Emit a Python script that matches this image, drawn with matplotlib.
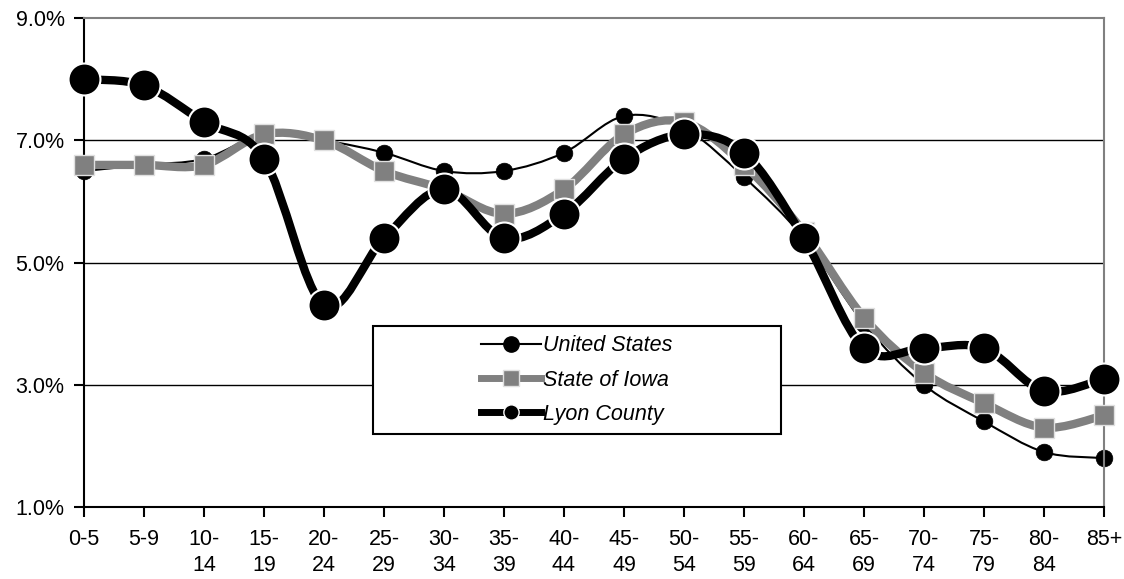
import matplotlib
matplotlib.use("Agg")
import matplotlib.pyplot as plt
from matplotlib.path import Path
from matplotlib.patches import PathPatch, Rectangle
from matplotlib.lines import Line2D
from matplotlib.ticker import FuncFormatter

plt.rcParams['font.family'] = ['Liberation Sans', 'DejaVu Sans']

# ---- data ----
age_groups = ["0-5", "5-9", "10-\n14", "15-\n19", "20-\n24", "25-\n29", "30-\n34",
              "35-\n39", "40-\n44", "45-\n49", "50-\n54", "55-\n59", "60-\n64",
              "65-\n69", "70-\n74", "75-\n79", "80-\n84", "85+"]
united_states = [6.5, 6.6, 6.7, 7.1, 7.0, 6.8, 6.5, 6.5, 6.8, 7.4, 7.2, 6.4, 5.4,
                 4.0, 3.0, 2.4, 1.9, 1.8]
state_of_iowa = [6.6, 6.6, 6.6, 7.1, 7.0, 6.5, 6.2, 5.8, 6.2, 7.1, 7.3, 6.6, 5.5,
                 4.1, 3.2, 2.7, 2.3, 2.5]
lyon_county = [8.0, 7.9, 7.3, 6.7, 4.3, 5.4, 6.2, 5.4, 5.8, 6.7, 7.1, 6.8, 5.4,
               3.6, 3.6, 3.6, 2.9, 3.1]
y_ticks = [1, 3, 5, 7, 9]
series_names = ["United States", "State of Iowa", "Lyon County"]

GREY = "#808080"
FS = 15.5

W, H = 1124, 579
fig = plt.figure(figsize=(W / 100, H / 100), dpi=100)
left, right, top, bottom = 84, 1104, 18.3, 507
ax = fig.add_axes([left / W, 1 - bottom / H, (right - left) / W, (bottom - top) / H])

x = list(range(len(age_groups)))


def smooth_path(xs, ys):
    n = len(xs)
    verts = [(xs[0], ys[0])]
    codes = [Path.MOVETO]
    for i in range(n - 1):
        p0 = i - 1 if i > 0 else i
        p3 = i + 2 if i + 2 < n else i + 1
        c1 = (xs[i] + (xs[i + 1] - xs[p0]) / 6.0, ys[i] + (ys[i + 1] - ys[p0]) / 6.0)
        c2 = (xs[i + 1] - (xs[p3] - xs[i]) / 6.0, ys[i + 1] - (ys[p3] - ys[i]) / 6.0)
        verts += [c1, c2, (xs[i + 1], ys[i + 1])]
        codes += [Path.CURVE4] * 3
    return Path(verts, codes)


styles = [
    dict(data=united_states, color="black", lw=1.5, marker="o", ms=12, mec="black", mew=0.5, z=2),
    dict(data=state_of_iowa, color=GREY, lw=6, marker="s", ms=14.5, mec="#e0e0e0", mew=1.0, z=3),
    dict(data=lyon_county, color="black", lw=6, marker="o", ms=23, mec="white", mew=1.5, z=4),
]

for st in styles:
    patch = PathPatch(smooth_path(x, st["data"]), fill=False, edgecolor=st["color"],
                      lw=st["lw"], capstyle="round", joinstyle="round", zorder=st["z"])
    ax.add_patch(patch)
    ax.plot(x, st["data"], linestyle="none", marker=st["marker"], ms=st["ms"],
            mfc=st["color"], mec=st["mec"], mew=st["mew"], zorder=st["z"] + 0.5,
            clip_on=False)

ax.set_xlim(0, len(age_groups) - 1)
ax.set_ylim(1, 9)
ax.set_xticks(x)
ax.set_xticklabels(age_groups, fontsize=FS, linespacing=1.3)
ax.set_yticks(y_ticks)
ax.yaxis.set_major_formatter(FuncFormatter(lambda v, p: f"{v:.1f}%"))
ax.tick_params(axis="y", labelsize=FS, length=7, width=1.5, pad=7, direction="out")
ax.tick_params(axis="x", length=7, width=1.5, pad=9, direction="out")

for yv in y_ticks[1:-1]:
    ax.axhline(yv, color="black", lw=1.0, zorder=1)

ax.spines["left"].set_color("black")
ax.spines["left"].set_linewidth(1.5)
ax.spines["bottom"].set_color("black")
ax.spines["bottom"].set_linewidth(1.5)
ax.spines["top"].set_color(GREY)
ax.spines["top"].set_linewidth(1.5)
ax.spines["right"].set_color(GREY)
ax.spines["right"].set_linewidth(1.5)

# legend box
bx0 = (372.7 - left) / (right - left)
bx1 = (780.7 - left) / (right - left)
by0 = (bottom - 434) / (bottom - top)
by1 = (bottom - 326) / (bottom - top)
ax.add_patch(Rectangle((bx0, by0), bx1 - bx0, by1 - by0, transform=ax.transAxes,
                       facecolor="white", edgecolor="black", lw=1.5, zorder=6,
                       clip_on=False))

handles = [
    Line2D([], [], color="black", lw=1.5, marker="o", ms=11, mfc="black", mec="black"),
    Line2D([], [], color=GREY, lw=5, marker="s", ms=11, mfc=GREY, mec="#e0e0e0", mew=1.0),
    Line2D([], [], color="black", lw=5, marker="o", ms=11, mfc="black", mec="white", mew=1.0),
]
leg = ax.legend(handles, series_names, loc="center",
                bbox_to_anchor=((bx0 + bx1) / 2, (by0 + by1) / 2),
                bbox_transform=ax.transAxes, frameon=False, borderpad=0,
                handlelength=2.8, handletextpad=0.12, labelspacing=0.62,
                prop=dict(size=FS, style="italic"))
leg.set_zorder(7)

fig.savefig("out.png", dpi=100)
